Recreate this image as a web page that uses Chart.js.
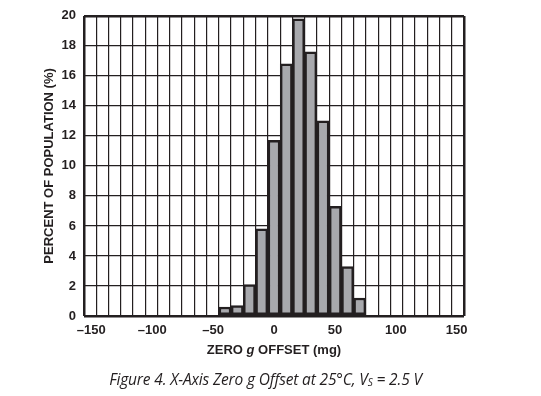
<!DOCTYPE html>
<html>
<head>
<meta charset="utf-8">
<script src="https://cdn.jsdelivr.net/npm/chart.js@4.4.1/dist/chart.umd.min.js"></script>
<style>
    html, body { margin: 0; padding: 0; background: #fff; }
    #wrap { position: relative; width: 541px; height: 396px; }
    #xTitle {
        position: absolute; left: 0; width: 548px; top: 342px;
        text-align: center; color: #231f20;
        font: bold 13px 'Liberation Sans', Arial, sans-serif;
    }
    #caption {
        position: absolute; left: 0; width: 531px; top: 368px;
        text-align: center; color: #231f20;
        font: italic 15.5px 'Open Sans', 'Noto Sans', sans-serif;
        letter-spacing: -0.15px;
    }
    #caption sub { font-size: 10px; vertical-align: -1px; }
</style>
</head>
<body>
<div id="wrap">
    <canvas id="histChart" width="541" height="396"></canvas>
    <div id="xTitle">ZERO <i>g</i> OFFSET (mg)</div>
    <div id="caption">Figure 4. X-Axis Zero g Offset at 25°C, V<sub>S</sub> = 2.5 V</div>
</div>
<script>
// Bin centers (mg) and percent of population per bin
const binCenters = [-38.7, -29.0, -19.4, -9.7, 0.0, 9.7, 19.4, 29.0, 38.7, 48.4, 58.1, 67.7];
const percents = [0.6, 0.7, 2.1, 5.8, 11.7, 16.8, 19.8, 17.6, 13.0, 7.3, 3.3, 1.2];

// Axis settings
const xTicks = [-150, -100, -50, 0, 50, 100, 150];
const yTicks = [0, 2, 4, 6, 8, 10, 12, 14, 16, 18, 20];
const gridSteps = 31;
const labelSpan = 156; // tick labels sit a little inside the frame

const ink = '#231f20';
const tickFont = { family: "'Liberation Sans', Arial, sans-serif", size: 13, weight: 'bold' };

// Vertical grid: evenly spaced lines across the x range
function gridTicks() {
    const lo = xTicks[0], hi = xTicks[xTicks.length - 1];
    const out = [];
    for (let k = 0; k <= gridSteps; k++) {
        out.push({ value: lo + (hi - lo) * k / gridSteps });
    }
    return out;
}

// Thicker line for the frame
function frameWidth(ctx, count) {
    return (ctx.index === 0 || ctx.index === count - 1) ? 2.5 : 1.2;
}

const ctx = document.getElementById('histChart').getContext('2d');

const chart = new Chart(ctx, {
    type: 'bar',
    data: {
        datasets: [{
            data: binCenters.map((x, i) => ({ x, y: percents[i] })),
            backgroundColor: '#a8a9ad',
            borderColor: ink,
            borderWidth: 2.5,
            borderSkipped: false,
            barPercentage: 1,
            categoryPercentage: 1,
            xAxisID: 'xg'
        }]
    },
    options: {
        responsive: false,
        animation: false,
        layout: { padding: { left: 0, top: 14, right: 77, bottom: 0 } },
        plugins: {
            legend: { display: false },
            tooltip: { enabled: false }
        },
        scales: {
            x: {
                type: 'linear',
                position: 'bottom',
                offset: false,
                min: -labelSpan,
                max: labelSpan,
                grid: { display: false, drawTicks: false, offset: false },
                border: { display: false },
                afterBuildTicks: scale => { scale.ticks = xTicks.map(v => ({ value: v })); },
                ticks: {
                    color: ink,
                    font: tickFont,
                    padding: 7,
                    maxRotation: 0,
                    callback: v => String(v).replace('-', '\u2013')
                },
                afterFit: scale => { scale.height = 80; }
            },
            xg: {
                type: 'linear',
                position: 'top',
                offset: false,
                min: xTicks[0],
                max: xTicks[xTicks.length - 1],
                afterBuildTicks: scale => { scale.ticks = gridTicks(); },
                ticks: { display: false },
                grid: {
                    drawTicks: false,
                    offset: false,
                    color: ink,
                    lineWidth: c => frameWidth(c, gridSteps + 1)
                },
                border: { display: false },
                afterFit: scale => { scale.height = 0; }
            },
            y: {
                min: 0,
                max: 20,
                afterBuildTicks: scale => { scale.ticks = yTicks.map(v => ({ value: v })); },
                ticks: { color: ink, font: tickFont, padding: 8 },
                grid: {
                    drawTicks: false,
                    color: ink,
                    lineWidth: c => frameWidth(c, yTicks.length)
                },
                border: { display: false },
                title: {
                    display: true,
                    text: 'PERCENT OF POPULATION (%)',
                    color: ink,
                    font: { family: "'Liberation Sans', Arial, sans-serif", size: 13, weight: 'bold' },
                    padding: { top: 42, bottom: 0 }
                },
                afterFit: scale => { scale.width = 84; }
            }
        }
    }
});
</script>
</body>
</html>
